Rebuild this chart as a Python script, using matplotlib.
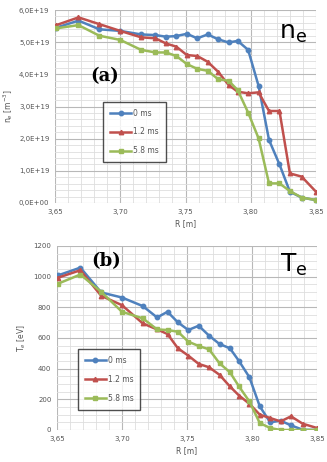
import matplotlib
matplotlib.use("Agg")
import matplotlib.pyplot as plt
from matplotlib.ticker import MultipleLocator, FuncFormatter

R = [3.651, 3.668, 3.684, 3.700, 3.716, 3.727, 3.735, 3.743, 3.751, 3.759, 3.767,
     3.775, 3.783, 3.790, 3.798, 3.806, 3.814, 3.822, 3.830, 3.839, 3.850]

labels = ["0 ms", "1.2 ms", "5.8 ms"]

# density, units of 1E19 m^-3
ne_0 = [5.45, 5.67, 5.40, 5.35, 5.24, 5.22, 5.17, 5.19, 5.26, 5.12, 5.24,
        5.09, 4.99, 5.04, 4.76, 3.64, 1.96, 1.20, 0.35, 0.17, 0.09]
ne_12 = [5.53, 5.77, 5.56, 5.35, 5.15, 5.12, 4.96, 4.86, 4.60, 4.57, 4.39,
         4.08, 3.67, 3.46, 3.41, 3.44, 2.86, 2.86, 0.92, 0.82, 0.35]
ne_58 = [5.43, 5.53, 5.20, 5.07, 4.76, 4.68, 4.68, 4.57, 4.32, 4.17, 4.11,
         3.85, 3.80, 3.51, 2.81, 2.01, 0.61, 0.61, 0.37, 0.17, 0.09]

# temperature, eV
te_0 = [1009, 1059, 897, 864, 808, 734, 771, 702, 652, 680, 615,
        561, 533, 450, 344, 154, 50, 61, 30, 2, 0]
te_12 = [994, 1042, 875, 814, 695, 656, 626, 533, 485, 431, 409,
         360, 284, 225, 171, 100, 78, 56, 89, 41, 13]
te_58 = [955, 1014, 901, 771, 728, 656, 652, 641, 576, 548, 526,
         435, 377, 284, 186, 45, 13, 0, 0, 0, 0]

colors = ["#4F81BD", "#C0504D", "#9BBB59"]
markers = ["o", "^", "s"]

fig = plt.figure(figsize=(3.27, 4.62), dpi=100)
ax1 = fig.add_axes([55 / 327, 1 - 203 / 462, 261 / 327, 193 / 462])
ax2 = fig.add_axes([57 / 327, 1 - 430 / 462, 260 / 327, 184 / 462])

tick_col = "#555555"


def comma(v, pos):
    return ("%.2f" % v).replace(".", ",")


def sci(v, pos):
    return ("%.1fE+19" % v).replace(".", ",") if v > 0 else "0,0E+00"


def style(ax):
    ax.set_xlim(3.65, 3.85)
    ax.xaxis.set_major_locator(MultipleLocator(0.05))
    ax.xaxis.set_minor_locator(MultipleLocator(0.01))
    ax.xaxis.set_major_formatter(FuncFormatter(comma))
    ax.grid(True, which="major", color="#b8b8b8", lw=0.8)
    ax.grid(True, which="minor", color="#dedede", lw=0.6)
    ax.set_axisbelow(True)
    ax.tick_params(which="both", length=0, labelsize=5, colors=tick_col, pad=4)
    for s in ax.spines.values():
        s.set_visible(False)
    ax.set_xlabel("R [m]", fontsize=5.5, color=tick_col, labelpad=3)


for ys, lab, c, m in zip([ne_0, ne_12, ne_58], labels, colors, markers):
    ax1.plot(R, ys, color=c, marker=m, ms=3.2, lw=1.8, label=lab)
ax1.set_ylim(0, 6)
ax1.yaxis.set_major_locator(MultipleLocator(1))
ax1.yaxis.set_minor_locator(MultipleLocator(0.2))
ax1.yaxis.set_major_formatter(FuncFormatter(sci))
style(ax1)
ax1.set_ylabel(r"n$_e$ [m$^{-3}$]", fontsize=5.5, color=tick_col, labelpad=3)
ax1.text(0.19, 0.66, "(a)", transform=ax1.transAxes, fontsize=13,
         fontweight="bold", family="DejaVu Serif", ha="center", va="center")
ax1.text(0.91, 0.88, r"n$_\mathregular{e}$", transform=ax1.transAxes, fontsize=18,
         ha="center", va="center")
leg = ax1.legend(loc="upper left", bbox_to_anchor=(0.17, 0.545), fontsize=5.5,
                 frameon=True, fancybox=False, handlelength=2.8, borderpad=0.9,
                 labelspacing=1.3, handletextpad=0.2)
leg.get_frame().set_edgecolor("#222222")
leg.get_frame().set_linewidth(1.0)
for t in leg.get_texts():
    t.set_color(tick_col)

for ys, lab, c, m in zip([te_0, te_12, te_58], labels, colors, markers):
    ax2.plot(R, ys, color=c, marker=m, ms=3.2, lw=1.8, label=lab)
ax2.set_ylim(0, 1200)
ax2.yaxis.set_major_locator(MultipleLocator(200))
ax2.yaxis.set_minor_locator(MultipleLocator(50))
style(ax2)
ax2.set_ylabel(r"T$_e$ [eV]", fontsize=5.5, color=tick_col, labelpad=4)
ax2.text(0.19, 0.92, "(b)", transform=ax2.transAxes, fontsize=13,
         fontweight="bold", family="DejaVu Serif", ha="center", va="center")
ax2.text(0.91, 0.90, r"T$_\mathregular{e}$", transform=ax2.transAxes, fontsize=18,
         ha="center", va="center")
leg = ax2.legend(loc="upper left", bbox_to_anchor=(0.065, 0.46), fontsize=5.5,
                 frameon=True, fancybox=False, handlelength=2.8, borderpad=0.9,
                 labelspacing=1.3, handletextpad=0.2)
leg.get_frame().set_edgecolor("#222222")
leg.get_frame().set_linewidth(1.0)
for t in leg.get_texts():
    t.set_color(tick_col)

fig.savefig("out.png", dpi=100)
